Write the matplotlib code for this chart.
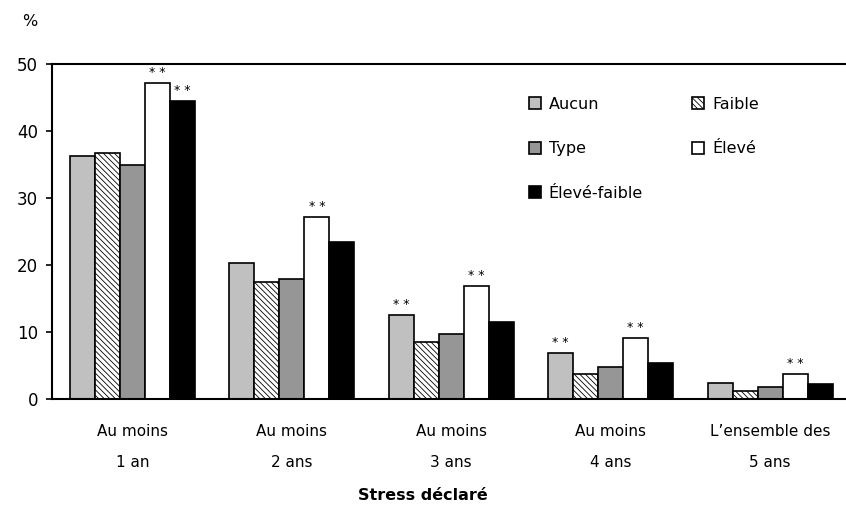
import matplotlib
matplotlib.use("Agg")
import matplotlib.pyplot as plt
import numpy as np

plt.rcParams['font.family'] = ['DejaVu Sans']
plt.rcParams['hatch.linewidth'] = 0.6

# data
categories = ["Au moins\n1 an", "Au moins\n2 ans", "Au moins\n3 ans",
              "Au moins\n4 ans", "L\u2019ensemble des\n5 ans"]
series_names = ["Aucun", "Faible", "Type", "\u00c9lev\u00e9", "\u00c9lev\u00e9-faible"]
aucun = [36.3, 20.3, 12.5, 6.8, 2.4]
faible = [36.7, 17.5, 8.5, 3.7, 1.2]
type_ = [34.9, 17.9, 9.7, 4.7, 1.8]
eleve = [47.1, 27.1, 16.9, 9.1, 3.8]
eleve_faible = [44.5, 23.5, 11.5, 5.4, 2.2]
# significance markers (** above bar)
sig_aucun = [False, False, True, True, False]
sig_faible = [False, False, False, False, False]
sig_type = [False, False, False, False, False]
sig_eleve = [True, True, True, True, True]
sig_eleve_faible = [True, False, False, False, False]

values = [aucun, faible, type_, eleve, eleve_faible]
sigs = [sig_aucun, sig_faible, sig_type, sig_eleve, sig_eleve_faible]
colors = ['#c0c0c0', 'white', '#969696', 'white', 'black']
hatches = [None, '\\\\\\\\\\\\', None, None, None]

fig = plt.figure(figsize=(8.46, 5.31), dpi=100)
ax = fig.add_axes([0.0615, 0.2486, 0.942, 0.631])

x = np.arange(len(categories))
w = 0.157
handles = []
for i, (vals, col, h, sg) in enumerate(zip(values, colors, hatches, sigs)):
    pos = x + (i - 2) * w
    b = ax.bar(pos, vals, width=w, color=col, edgecolor='black', linewidth=1.2,
               hatch=h, label=series_names[i])
    handles.append(b)
    for px, v, s in zip(pos, vals, sg):
        if s:
            ax.text(px, v + 0.6, '* *', ha='center', va='bottom', fontsize=9)

ax.set_xlim(-0.505, 4.495)
ax.set_ylim(0, 50)
ax.set_yticks([0, 10, 20, 30, 40, 50])
ax.tick_params(axis='y', direction='out', length=4, width=1.2, labelsize=12, pad=6)
ax.set_xticks(x)
ax.set_xticklabels(categories, fontsize=11, linespacing=2.3)
ax.tick_params(axis='x', length=0, pad=18)
for s in ['top', 'left', 'bottom']:
    ax.spines[s].set_linewidth(1.5)
ax.spines['right'].set_visible(False)

order = [0, 2, 4, 1, 3]
leg = ax.legend([handles[k] for k in order], [series_names[k] for k in order],
                ncol=2, frameon=False, loc='upper left',
                bbox_to_anchor=(0.58, 0.945), fontsize=11.5,
                handlelength=0.75, handleheight=0.75, handletextpad=0.5,
                labelspacing=1.85, columnspacing=3.1)

fig.text(22 / 846, 1 - 22 / 531, '%', fontsize=11.5, ha='left', va='center')
fig.text(0.5, 1 - 495 / 531, 'Stress d\u00e9clar\u00e9', fontsize=11.5,
         fontweight='heavy', ha='center', va='center')

fig.savefig('out.png', dpi=100)
